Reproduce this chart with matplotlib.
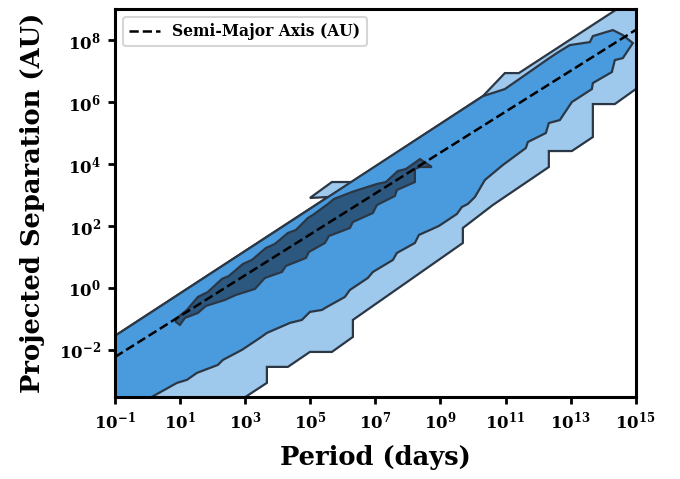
import numpy as np
import matplotlib
matplotlib.use("Agg")
import matplotlib.pyplot as plt

plt.rcParams['font.family'] = ['DejaVu Serif']
plt.rcParams['font.weight'] = 'bold'

# contour outlines, in log10 units (period in days, separation in AU)
# outermost level (lightest)
light_logp = [-1.307, 5.542, 4.989, 5.665, 6.279, 10.302, 10.978, 11.408, 15.431, 15.431,
              14.356, 13.681, 13.681, 13.036, 12.329, 12.329, 10.609, 9.688, 9.688, 6.310,
              6.310, 5.665, 4.989, 4.313, 3.668, 3.668, 2.778, -1.307]
light_logs = [-1.758, 2.935, 2.903, 3.419, 3.419, 6.19, 6.935, 6.935, 9.691, 6.742,
              5.935, 5.935, 4.871, 4.419, 4.419, 3.903, 2.677, 1.935, 1.452, -1.032,
              -1.581, -2.065, -2.065, -2.548, -2.548, -3.065, -3.677, -3.677]

# middle level
mid_logp = [-1.307, 10.302, 10.978, 11.684, 12.299, 12.575, 12.974, 13.589, 13.681, 14.295,
            14.602, 14.909, 14.602, 14.356, 14.264, 13.681, 13.650, 13.036, 12.667, 12.329,
            12.237, 11.684, 11.623, 10.916, 10.364, 10.057, 9.841, 9.657, 9.504, 8.951,
            8.337, 8.214, 7.661, 7.538, 6.924, 6.770, 6.217, 6.064, 5.511, 5.358,
            4.989, 4.743, 4.375, 3.668, 3.453, 2.900, 2.317, 2.163, 1.518, 1.211,
            0.904, -0.14, -1.307]
mid_logs = [-1.758, 6.19, 6.419, 6.935, 7.387, 7.581, 7.839, 7.935, 8.129, 8.323,
            8.161, 7.903, 7.419, 7.355, 6.968, 6.613, 6.419, 6.0, 5.419, 5.323,
            5.000, 4.710, 4.516, 3.968, 3.484, 2.935, 2.710, 2.613, 2.387, 2.0,
            1.710, 1.452, 1.129, 0.903, 0.516, 0.323, -0.065, -0.290, -0.613, -0.710,
            -0.774, -1.032, -1.129, -1.452, -1.613, -2.0, -2.323, -2.484, -2.742, -2.968,
            -3.065, -3.677, -3.677]

# innermost level (darkest)
dark_logp = [0.873, 1.211, 1.549, 1.856, 2.286, 2.501, 2.931, 3.208, 3.638, 3.914,
             4.313, 4.559, 4.927, 5.081, 5.542, 5.726, 6.279, 6.463, 7.047, 7.323,
             7.692, 7.937, 8.245, 8.367, 8.736, 8.367, 8.214, 8.214, 7.661, 7.600,
             7.047, 6.924, 6.310, 6.217, 5.573, 5.450, 4.958, 4.866, 4.252, 4.129,
             3.607, 3.300, 2.716, 2.378, 1.795, 1.549, 1.150, 0.996, 0.873]
dark_logs = [-1.0, -0.710, -0.290, -0.129, 0.290, 0.387, 0.774, 0.903, 1.290, 1.419,
             1.774, 1.871, 2.258, 2.355, 2.710, 2.871, 3.097, 3.161, 3.355, 3.419,
             3.774, 3.839, 4.065, 4.161, 3.903, 3.903, 3.839, 3.419, 3.161, 2.968,
             2.677, 2.419, 2.129, 1.935, 1.677, 1.452, 1.161, 0.968, 0.710, 0.516,
             0.323, -0.032, -0.226, -0.387, -0.581, -0.806, -0.968, -1.194, -1.097]

# semi-major axis line, end points
sma_logp = [-1, 15]
sma_logs = [-2.23, 8.33]

fig = plt.figure(figsize=(6.8, 4.79), dpi=100)
ax = fig.add_axes([0.169, 0.171, 0.766, 0.810])

edge = '#2b3744'
for lp, ls, col in [(light_logp, light_logs, '#9ec8ec'),
                    (mid_logp, mid_logs, '#4a9bde'),
                    (dark_logp, dark_logs, '#2c5880')]:
    ax.fill(10 ** np.array(lp), 10 ** np.array(ls), facecolor=col,
            edgecolor=edge, linewidth=1.6)

ax.plot(10 ** np.array(sma_logp, dtype=float), 10 ** np.array(sma_logs), 'k--',
        linewidth=1.8, label='Semi-Major Axis (AU)')

ax.set_xscale('log')
ax.set_yscale('log')
ax.set_xlim(1e-1, 1e15)
ax.set_ylim(3e-4, 1e9)
ax.set_xticks([10.0 ** k for k in range(-1, 16, 2)])
ax.set_yticks([10.0 ** k for k in range(-2, 9, 2)])
ax.minorticks_off()

ax.set_xlabel('Period (days)', fontsize=18.5, fontweight='bold', labelpad=9)
ax.set_ylabel('Projected Separation (AU)', fontsize=18.5, fontweight='bold', labelpad=10)
ax.tick_params(axis='both', which='major', labelsize=12, width=2, length=5, pad=5)
for sp in ax.spines.values():
    sp.set_linewidth(2.2)

leg = ax.legend(loc='upper left', fontsize=11.2, edgecolor='#cccccc')
leg.get_frame().set_linewidth(1.5)

fig.savefig('out.png', dpi=100)
